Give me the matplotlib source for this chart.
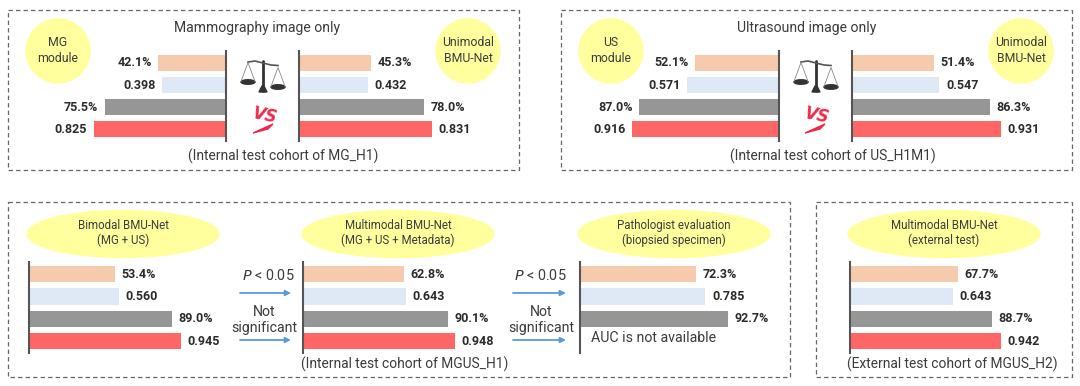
import matplotlib
matplotlib.use('Agg')
import matplotlib.pyplot as plt
from matplotlib.patches import Rectangle, Ellipse, Circle, Polygon

plt.rcParams['font.family'] = ['Roboto', 'DejaVu Sans']

W, H = 1080, 386
PX_PER_UNIT = 160.5  # bar length in pixels for a value of 1.0

# rows top to bottom, fractions (rows 0 and 2 are labelled as percent)
mg_module = [0.421, 0.398, 0.755, 0.825]
mg_unimodal = [0.453, 0.432, 0.780, 0.831]
us_module = [0.521, 0.571, 0.870, 0.916]
us_unimodal = [0.514, 0.547, 0.863, 0.931]
bimodal = [0.534, 0.560, 0.890, 0.945]
multimodal = [0.628, 0.643, 0.901, 0.948]
pathologist = [0.723, 0.785, 0.927, None]
external = [0.677, 0.643, 0.887, 0.942]

bar_colors = ['#F6CBAD', '#DEE9F5', '#969696', '#FF6666']
yellow = '#FFFF9E'
text_col = '#3c3c3c'
arrow_col = '#5B9BD5'

fig = plt.figure(figsize=(W / 100, H / 100), dpi=100)
bg = fig.add_axes([0, 0, 1, 1])
bg.set_xlim(0, W)
bg.set_ylim(H, 0)
bg.axis('off')


def box(x0, y0, x1, y1):
    bg.add_patch(Rectangle((x0, y0), x1 - x0, y1 - y0, fill=False, ec='#666666', lw=0.9, ls=(0, (3.5, 2.5))))


def label(x, y, s, size=9.2, col=text_col, **kw):
    bg.text(x, y, s, ha='center', va='center', fontsize=size, color=col, **kw)


def bars(spine_x, top, bottom, vals, side='right'):
    # one axes per bar group, spine sits at value 0
    span = 175
    if side == 'right':
        rect = [spine_x / W, 1 - bottom / H, span / W, (bottom - top) / H]
    else:
        rect = [(spine_x - span) / W, 1 - bottom / H, span / W, (bottom - top) / H]
    ax = fig.add_axes(rect)
    ax.patch.set_alpha(0)
    lim = span / PX_PER_UNIT
    ax.set_xlim((0, lim) if side == 'right' else (lim, 0))
    ax.set_ylim(3.52, -0.54)
    ax.set_xticks([])
    ax.set_yticks([])
    for s in ax.spines.values():
        s.set_visible(False)
    keep = 'left' if side == 'right' else 'right'
    ax.spines[keep].set_visible(True)
    ax.spines[keep].set_linewidth(1.5)
    ax.spines[keep].set_color('#555555')
    ax.spines[keep].set_zorder(5)
    for i, v in enumerate(vals):
        if v is None:
            continue
        ax.barh(i, v, height=0.72, color=bar_colors[i])
        txt = f'{v * 100:.1f}%' if i % 2 == 0 else f'{v:.3f}'
        off = 4.8 if side == 'right' else -4.8
        ax.annotate(txt, (v, i), xytext=(off, 0), textcoords='offset points',
                    ha='left' if side == 'right' else 'right', va='center',
                    fontsize=9, fontweight='bold', color='#2b2b2b', annotation_clip=False)
    return ax


def scale_icon(cx):
    c = '#333333'
    bg.plot([cx, cx], [61, 91], color=c, lw=2, solid_capstyle='round')
    bg.add_patch(Polygon([[cx - 4, 92], [cx + 4, 92], [cx + 1, 86], [cx - 1, 86]], color=c))
    bg.plot([cx - 15, cx - 8, cx, cx + 8, cx + 15], [62, 61, 63, 65, 65.5], color='#555555', lw=1.2)
    for px, py in [(cx - 15, 81.5), (cx + 15, 86.5)]:
        bg.plot([px - 7, px, px + 7], [py, py - 19, py], color='#888888', lw=0.6)
        bg.add_patch(Ellipse((px, py + 0.5), 14, 4.5, color=c))


def vs_mark(cx):
    bg.text(cx, 116, 'VS', ha='center', va='center', fontsize=12, color='#EE2A4A',
            fontweight='bold', style='italic', family='DejaVu Sans', rotation=-12)
    bg.add_patch(Polygon([[cx - 12, 133], [cx + 8, 124], [cx + 3, 129]], color='#EE2A4A'))


# dashed panels
box(8, 10, 519, 170)
box(561, 10, 1072, 170)
box(8, 202, 790, 377)
box(816, 202, 1072, 377)

# yellow circles and ellipses
for cx, name in [(58, 'MG\nmodule'), (468, 'Unimodal\nBMU-Net'), (611, 'US\nmodule'), (1021, 'Unimodal\nBMU-Net')]:
    bg.add_patch(Circle((cx, 51), 32, color=yellow))
    label(cx, 51, name, size=8.8, linespacing=1.3)
for cx, name in [(123, 'Bimodal BMU-Net\n(MG + US)'), (398, 'Multimodal BMU-Net\n(MG + US + Metadata)'),
                 (674, 'Pathologist evaluation\n(biopsied specimen)'), (944, 'Multimodal BMU-Net\n(external test)')]:
    bg.add_patch(Ellipse((cx, 234), 192, 47, color=yellow))
    label(cx, 233, name, size=8.3, linespacing=1.2)

# titles and cohort captions
label(257, 28, 'Mammography image only', size=10.1)
label(807, 28, 'Ultrasound image only', size=10.1)
label(283, 156, '(Internal test cohort of MG_H1)', size=9.9)
label(833, 156, '(Internal test cohort of US_H1M1)', size=9.9)
label(405, 364, '(Internal test cohort of MGUS_H1)', size=9.9)
label(952, 364, '(External test cohort of MGUS_H2)', size=9.9)

# bar groups
bars(226, 51, 141, mg_module, 'left')
bars(298.5, 51, 141, mg_unimodal)
bars(779, 51, 141, us_module, 'left')
bars(851.5, 51, 141, us_unimodal)
bars(29, 262, 353, bimodal)
bars(303, 262, 353, multimodal)
bars(579.5, 262, 353, pathologist)
bars(849.5, 262, 353, external)

bg.text(591, 338, 'AUC is not available', ha='left', va='center', fontsize=10.2, color=text_col)

# scales and VS
for cx, vx in [(263, 265), (816, 817)]:
    scale_icon(cx)
    vs_mark(vx)

# significance notes and arrows
for px, nx, x0, x1 in [(268, 264, 240, 291), (540, 541, 513, 566)]:
    bg.text(px, 275, r'$\it{P}$ < 0.05', ha='center', va='center', fontsize=10.4, color=text_col,
            math_fontfamily='dejavusans')
    label(nx, 320, 'Not\nsignificant', size=10.2, linespacing=1.25)
    for y in [293, 340]:
        bg.annotate('', xy=(x1, y), xytext=(x0, y),
                    arrowprops=dict(arrowstyle='-|>', color=arrow_col, lw=1.3, mutation_scale=8, shrinkA=0, shrinkB=0))

fig.savefig('out.png', dpi=100)
